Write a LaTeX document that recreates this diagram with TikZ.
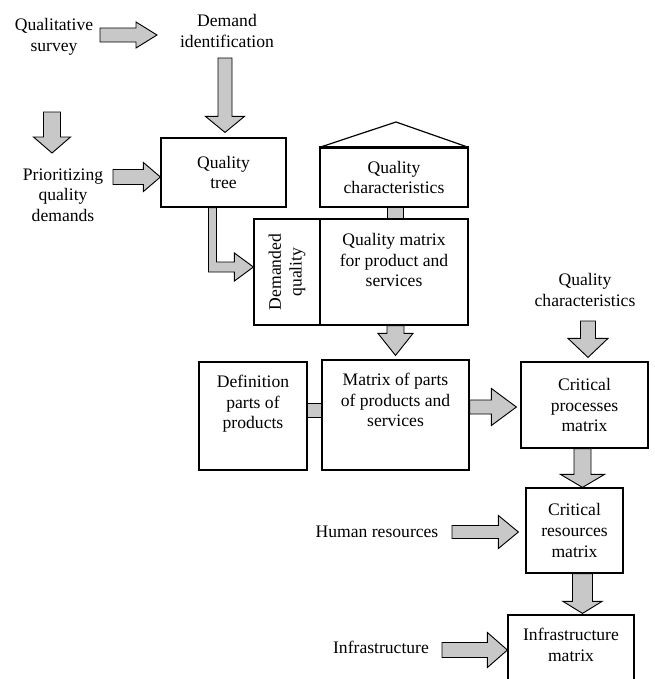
\documentclass[tikz,border=0pt]{standalone}
\usepackage{fontspec}
\setmainfont{Liberation Serif}
\usetikzlibrary{calc}
\definecolor{arrowgray}{RGB}{200,200,200}

% block arrow to the right: tail, tip, half shaft, half head, head length
\newcommand{\rightblock}[5]{%
  \draw[fat_arrow] ($(#1 |- #2)+(0,-#3)$) -- ($(#2)+(-#5,-#3)$) -- ($(#2)+(-#5,-#4)$) -- (#2)
    -- ($(#2)+(-#5,#4)$) -- ($(#2)+(-#5,#3)$) -- ($(#1 |- #2)+(0,#3)$) -- cycle;}
% block arrow downwards: tail, tip, half shaft, half head, head length
\newcommand{\downblock}[5]{%
  \draw[fat_arrow] ($(#2 |- #1)+(-#3,0)$) -- ($(#2)+(-#3,-#5)$) -- ($(#2)+(-#4,-#5)$) -- (#2)
    -- ($(#2)+(#4,-#5)$) -- ($(#2)+(#3,-#5)$) -- ($(#2 |- #1)+(#3,0)$) -- cycle;}

\begin{document}
\begin{tikzpicture}[x=0.75pt, y=-0.75pt,
    every node/.style={font=\fontsize{13.2}{15.5}\selectfont},
    box_style/.style={rectangle, draw, line width=0.9pt, align=center, inner sep=2pt},
    txt_style/.style={align=center, inner sep=0pt},
    top_txt/.style={anchor=north, align=center, inner sep=0pt, yshift=-10pt},
    fat_arrow/.style={draw, line width=0.7pt, fill=arrowgray, line join=miter}
]
\useasboundingbox (0,0) rectangle (655,679);
\clip (0,0) rectangle (655,679);

% texts and boxes
\node[txt_style] (survey) at (54,37) {Qualitative\\survey};
\node[txt_style] (ident) at (227,31) {Demand\\identification};
\node[txt_style] (prior) at (63,195) {Prioritizing\\quality\\demands};
\node[box_style, minimum width=93.75pt, minimum height=51.75pt] (qtree) at (223.5,172.5) {Quality\\tree};

\node[box_style, minimum width=111pt, minimum height=44.25pt] (qchar) at (394,177.5) {Quality\\characteristics};
\coordinate (apex) at (396,122);
\draw[line width=0.9pt] (qchar.north west) -- (apex) -- (qchar.north east);
\draw[line width=1.8pt] (qchar.north west) -- (qchar.north east);

\node[box_style, minimum width=79.5pt, minimum height=49.5pt, rotate=90] (dqual) at (287,272) {Demanded\\quality};
\node[box_style, minimum width=111pt, minimum height=79.5pt,
    label={[top_txt, yshift=-1pt]north:{Quality matrix\\for product and\\services}}] (qmatrix) at (394,272) {};

\node[box_style, minimum width=81pt, minimum height=81pt,
    label={[top_txt]north:{Definition\\parts of\\products}}] (defparts) at (253,416) {};
\node[box_style, minimum width=110.25pt, minimum height=82.5pt,
    label={[top_txt]north:{Matrix of parts\\of products and\\services}}] (mparts) at (395.5,415) {};

\node[txt_style] (qchar2) at (585,290) {Quality\\characteristics};
\node[box_style, minimum width=95.25pt, minimum height=64.5pt] (cproc) at (584.5,405) {Critical\\processes\\matrix};

\node[txt_style] (hres) at (377,532) {Human resources};
\node[box_style, minimum width=72.75pt, minimum height=63.75pt] (cres) at (574.5,530.5) {Critical\\resources\\matrix};

\node[txt_style] (infra) at (381,647) {Infrastructure};
\node[box_style, minimum width=94.5pt, minimum height=63.75pt,
    label={[top_txt]north:{Infrastructure\\matrix}}] (imatrix) at (571,657.5) {};

% block arrows
\coordinate (a1t) at (100,35);
\coordinate (a1h) at (157,35);
\rightblock{a1t}{a1h}{7}{13}{21}

\coordinate (a2t) at (225,58);
\coordinate (a2h) at ($(qtree.north)+(1.5,-5)$);
\downblock{a2t}{a2h}{7}{19.5}{16}

\coordinate (a3t) at (52,112);
\coordinate (a3h) at (52,153);
\downblock{a3t}{a3h}{8.5}{18.5}{16}

\coordinate (a4t) at (113,177);
\coordinate (a4h) at (qtree.west |- a4t);
\rightblock{a4t}{a4h}{7.5}{14.5}{17}

\coordinate (elb) at (212.5,267);
\coordinate (a5h) at (dqual.north |- elb);
\draw[fat_arrow] ($(qtree.south -| elb)+(-4,0)$) -- ($(elb)+(-4,5)$) -- ($(a5h)+(-19,5)$)
    -- ($(a5h)+(-19,14)$) -- (a5h) -- ($(a5h)+(-19,-14)$) -- ($(a5h)+(-19,-5)$)
    -- ($(elb)+(4,-5)$) -- ($(qtree.south -| elb)+(4,0)$) -- cycle;

\draw[fat_arrow] ($(qchar.south)+(-7,0)$) rectangle ($(qmatrix.north)+(9,0)$);

\coordinate (a7h) at ($(qmatrix.south |- mparts.north)+(1.5,-4)$);
\downblock{qmatrix.south}{a7h}{8.5}{17.5}{22}

\draw[fat_arrow] ($(defparts.east)+(0,-13)$) rectangle ($(mparts.west)+(0,2)$);

\coordinate (a9h) at ($(cproc.west)+(-4,2)$);
\rightblock{mparts.east}{a9h}{7}{18.5}{25}

\coordinate (a10t) at (588,321);
\coordinate (a10h) at ($(cproc.north)+(3.5,-4)$);
\downblock{a10t}{a10h}{7.5}{20}{19}

\coordinate (a11t) at ($(cproc.south)+(-2,0)$);
\coordinate (a11h) at (a11t |- cres.north);
\downblock{a11t}{a11h}{8.5}{22}{13}

\coordinate (a12t) at (452,532);
\coordinate (a12h) at ($(cres.west |- a12t)+(-7,0)$);
\rightblock{a12t}{a12h}{6.5}{16.5}{20}

\coordinate (a13t) at ($(cres.south)+(8,0)$);
\coordinate (a13h) at ($(a13t |- imatrix.north)+(0,-1)$);
\downblock{a13t}{a13h}{10}{19.5}{12}

\coordinate (a14t) at (442,650);
\coordinate (a14h) at (imatrix.west |- a14t);
\rightblock{a14t}{a14h}{7.5}{17.5}{20}
\end{tikzpicture}
\end{document}
